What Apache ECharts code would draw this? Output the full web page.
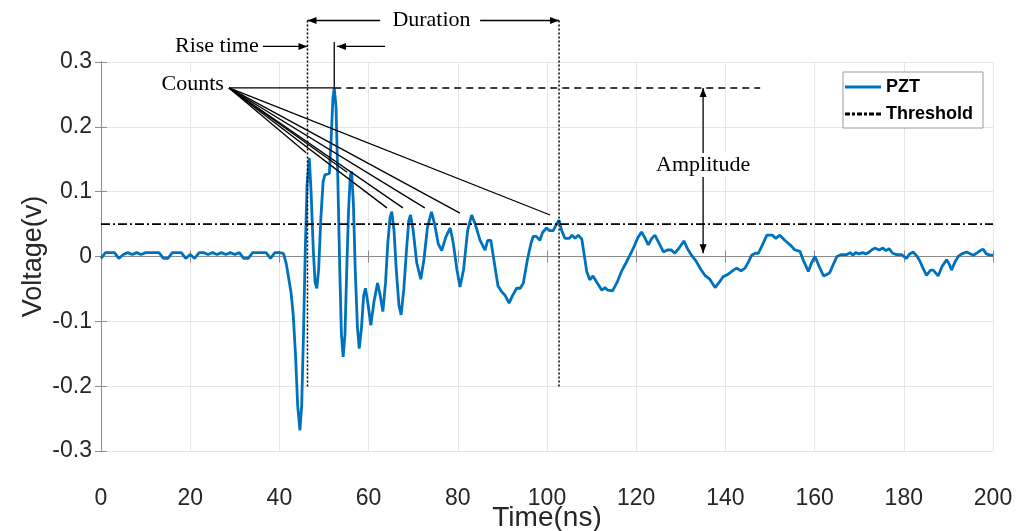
<!DOCTYPE html>
<html>
<head>
<meta charset="utf-8">
<script src="https://cdn.jsdelivr.net/npm/echarts@6/dist/echarts.min.js"></script>
<style>
  html, body { margin: 0; padding: 0; background: #fff; }
  #showChart { width: 1032px; height: 531px; }
</style>
</head>
<body>
<div id="showChart"></div>
<script>
// 采样时间 (ns)
var timeNs = [
  0,1,2,3,4,5,6,7,8,9,10,11,12,13,14,15,16,17,18,19,20,21,22,23,24,25,26,27,28,29,30,31,32,33,34,35,36,37,38,39,40,
  40.9,41.5,42.0,42.6,43.1,43.6,44.1,44.6,45.0,45.4,45.8,46.2,46.7,47.1,47.6,48.0,48.4,48.8,49.3,49.8,50.2,51.2,51.6,52.0,52.3,52.7,
  53.1,53.5,53.9,54.3,54.7,55.1,55.5,55.9,56.2,56.6,57.0,57.5,57.9,58.4,58.9,59.3,59.8,60.5,61.2,62.0,62.6,63.2,63.8,64.3,64.8,65.2,
  65.7,66.2,66.8,67.3,67.9,68.5,69.0,69.4,70.0,70.8,71.7,72.4,73.2,74.1,74.8,75.6,76.4,77.3,78.3,79.0,79.8,80.5,81.3,82.2,83.1,83.9,
  85.0,86.1,86.7,87.4,88.2,89.0,89.8,90.6,91.5,92.3,93.2,94.0,94.7,95.6,96.4,96.9,97.6,98.4,99.0,99.9,100.5,101.4,102.0,102.7,103.3,
  104.0,105.0,105.6,106.3,107.0,107.8,108.9,109.6,110.3,111.2,112.3,113.0,113.6,114.7,115.7,116.7,117.7,118.6,119.5,120.3,121.2,
  122.0,122.7,123.5,124.2,125.0,126.1,127.0,127.9,128.6,129.5,130.7,131.5,132.4,133.5,134.5,135.4,136.5,137.7,138.6,139.5,140.5,
  141.8,142.5,143.5,144.4,145.2,145.9,146.7,147.4,148.3,149.3,150.5,151.3,152.2,153.3,154.5,155.6,156.7,157.6,158.6,159.3,160.1,
  161.0,162.0,162.7,163.4,164.2,165.0,166.0,167.2,168.0,168.6,169.2,170.0,170.8,171.5,172.1,172.8,173.5,174.5,175.3,176.0,176.7,
  177.5,178.4,179.5,180.6,181.3,182.1,183.0,183.6,184.3,185.1,186.0,186.6,187.7,188.6,189.6,190.2,190.7,191.5,192.2,193.0,194.1,
  195.0,195.6,196.5,197.3,197.8,198.5,199.4,200.0
];
// PZT 电压 (V)
var voltage = [
  -0.003,0.006,0.006,0.006,-0.003,0.003,0.006,0.003,0.006,0.003,0.006,0.006,0.006,0.006,-0.003,-0.003,0.006,0.006,0.006,-0.003,
  0.003,-0.003,0.006,0.006,0.003,0.006,0.003,0.006,0.003,0.006,0.003,0.006,-0.003,-0.003,0.006,0.006,0.006,0.006,-0.003,0.006,0.006,
  0.005,-0.010,-0.030,-0.055,-0.090,-0.150,-0.230,-0.268,-0.230,-0.120,0.010,0.110,0.152,0.100,0.010,-0.040,-0.049,-0.020,0.060,0.115,
  0.126,0.128,0.180,0.245,0.260,0.230,
  0.120,-0.010,-0.120,-0.155,-0.120,-0.020,0.070,0.125,0.131,0.080,-0.020,-0.110,-0.142,-0.110,-0.060,-0.049,-0.070,-0.106,-0.070,
  -0.041,-0.060,-0.085,-0.040,0.020,0.060,0.069,
  0.040,-0.020,-0.075,-0.090,-0.050,0.010,0.055,0.064,0.040,-0.010,-0.035,-0.005,0.045,0.069,0.050,0.020,0.009,0.030,0.044,0.020,
  -0.020,-0.047,-0.020,0.040,0.064,0.050,
  0.025,0.010,0.025,0.025,-0.010,-0.045,-0.054,-0.060,-0.072,-0.060,-0.049,-0.049,-0.041,-0.005,0.020,0.031,0.031,0.025,0.037,0.044,
  0.040,0.040,0.048,0.056,0.040,
  0.028,0.028,0.033,0.028,0.033,0.027,-0.023,-0.036,-0.030,-0.040,-0.052,-0.048,-0.052,-0.053,-0.040,-0.023,-0.010,0.002,0.015,0.028,0.038,
  0.028,0.018,0.028,0.033,0.022,0.007,0.010,0.010,0.005,0.012,0.024,0.012,0.002,-0.008,-0.020,-0.029,-0.035,-0.048,-0.040,-0.031,-0.028,
  -0.021,-0.018,-0.022,-0.018,-0.008,0.002,0.005,0.005,0.018,0.033,0.033,0.028,0.033,0.025,0.018,0.010,0.008,-0.008,-0.023,-0.010,0.000,
  -0.015,-0.030,-0.028,-0.025,-0.012,0.000,0.003,0.003,0.006,0.002,0.006,0.004,0.006,0.004,0.006,0.010,0.013,0.010,0.013,0.009,0.012,
  0.005,0.003,0.003,-0.003,0.004,0.007,0.000,-0.007,-0.018,-0.029,-0.021,-0.021,-0.030,-0.015,-0.005,-0.012,-0.021,-0.008,0.000,0.004,0.007,
  0.004,0.002,0.006,0.010,0.011,0.004,0.002,0.002
];
var threshold = 0.05;
var amplitude = 0.26;
var xTicks = { min: 0, max: 200, step: 20 };
var yTicks = { min: -0.3, max: 0.3, step: 0.1 };

// 计数连线的端点 (数据坐标)
var countsFrom = [28.7, 0.26];
var countsTo = [[46.0, 0.160], [55.2, 0.130], [64.1, 0.075], [67.7, 0.075], [72.6, 0.075], [80.5, 0.067], [100.7, 0.064]];
var riseStart = 46.3, peakTime = 52.3, durationEnd = 102.7;

var pztData = [];
for (var i = 0; i < timeNs.length; i++) {
  pztData.push([timeNs[i], voltage[i]]);
}

var myChart = echarts.init(document.getElementById('showChart'));

var axisGray = '#8c8c8c';
var option = {
  backgroundColor: '#fff',
  animation: false,
  grid: { left: 101, right: 39, top: 62, bottom: 80, containLabel: false, outerBoundsMode: 'none' },
  legend: {
    orient: 'vertical',
    left: 843, top: 72,
    itemWidth: 36, itemHeight: 3, itemGap: 5,
    padding: [4, 10, 3, 2],
    backgroundColor: '#fff',
    borderColor: '#9a9a9a', borderWidth: 1,
    textStyle: { fontFamily: 'Liberation Sans', fontWeight: 'bold', fontSize: 18, color: '#000', lineHeight: 22 },
    data: [
      { name: 'PZT', icon: 'path://M0,0h36v3h-36z' },
      { name: 'Threshold', icon: 'path://M0,0h5v3h-5z M7,0h3v3h-3z M12,0h5v3h-5z M19,0h3v3h-3z M24,0h5v3h-5z M31,0h5v3h-5z' }
    ]
  },
  xAxis: [{
    type: 'value', min: xTicks.min, max: xTicks.max, interval: xTicks.step,
    name: 'Time(ns)', nameLocation: 'middle', nameGap: 53, nameMoveOverlap: false,
    nameTextStyle: { fontFamily: 'Liberation Sans', fontSize: 28, color: '#262626' },
    axisLine: { lineStyle: { color: axisGray } },
    axisTick: { inside: true, length: 6, lineStyle: { color: axisGray } },
    axisLabel: { margin: 36, fontFamily: 'Liberation Sans', fontSize: 23, color: '#262626' },
    splitLine: { lineStyle: { color: '#e6e6e6' } }
  }, {
    type: 'value', position: 'top', min: xTicks.min, max: xTicks.max, interval: xTicks.step,
    axisLine: { lineStyle: { color: axisGray } },
    axisTick: { inside: true, length: 6, lineStyle: { color: axisGray } },
    axisLabel: { show: false }, splitLine: { show: false }
  }],
  yAxis: [{
    type: 'value', min: yTicks.min, max: yTicks.max, interval: yTicks.step,
    name: 'Voltage(v)', nameLocation: 'middle', nameGap: 54, nameMoveOverlap: false,
    nameTextStyle: { fontFamily: 'Liberation Sans', fontSize: 27, color: '#262626' },
    axisLine: { show: true, lineStyle: { color: axisGray } },
    axisTick: { show: true, inside: true, length: 6, lineStyle: { color: axisGray } },
    axisLabel: {
      margin: 9, fontFamily: 'Liberation Sans', fontSize: 23, color: '#262626',
      formatter: function (v) { return String(+v.toFixed(1)); }
    },
    splitLine: { lineStyle: { color: '#e6e6e6' } }
  }, {
    type: 'value', position: 'right', min: yTicks.min, max: yTicks.max, interval: yTicks.step,
    axisLine: { show: true, lineStyle: { color: axisGray } },
    axisTick: { show: true, inside: true, length: 6, lineStyle: { color: axisGray } },
    axisLabel: { show: false }, splitLine: { show: false }
  }],
  series: [{
    name: 'PZT', type: 'line', xAxisIndex: 0, yAxisIndex: 0,
    showSymbol: false, symbol: 'none',
    lineStyle: { color: '#0072BD', width: 2.8 },
    itemStyle: { color: '#0072BD' },
    data: pztData
  }, {
    name: 'Threshold', type: 'line', xAxisIndex: 0, yAxisIndex: 0,
    showSymbol: false, symbol: 'none',
    lineStyle: { color: '#000', width: 1.8, type: [9, 3, 2, 3] },
    itemStyle: { color: '#000' },
    data: [[xTicks.min, threshold], [xTicks.max, threshold]]
  }]
};
myChart.setOption(option);

// 标注 (数据坐标 -> 像素)
function px(x, y) {
  return myChart.convertToPixel({ xAxisIndex: 0, yAxisIndex: 0 }, [x, y]);
}
function seg(a, b, dash, w) {
  return {
    type: 'line', z: 100, silent: true,
    shape: { x1: a[0], y1: a[1], x2: b[0], y2: b[1] },
    style: { stroke: '#000', lineWidth: w || 1.3, lineDash: dash || null }
  };
}
function head(tip, dir) {
  // dir: 'l','r','u','d'
  var L = 9, H = 3.5, p;
  if (dir == 'l') p = [[tip[0], tip[1]], [tip[0] + L, tip[1] - H], [tip[0] + L, tip[1] + H]];
  if (dir == 'r') p = [[tip[0], tip[1]], [tip[0] - L, tip[1] - H], [tip[0] - L, tip[1] + H]];
  if (dir == 'u') p = [[tip[0], tip[1]], [tip[0] - H, tip[1] + L], [tip[0] + H, tip[1] + L]];
  if (dir == 'd') p = [[tip[0], tip[1]], [tip[0] - H, tip[1] - L], [tip[0] + H, tip[1] - L]];
  return { type: 'polygon', z: 101, silent: true, shape: { points: p }, style: { fill: '#000' } };
}
function label(pos, text, align) {
  return {
    type: 'text', z: 102, silent: true, x: pos[0], y: pos[1],
    style: {
      text: text, fill: '#000', font: '22px "Liberation Serif"',
      align: align || 'center', verticalAlign: 'middle',
      backgroundColor: '#fff', padding: [1, 2]
    }
  };
}

var topY = 0.364, riseY = 0.324, botY = -0.201;
var g = [];
// 持续时间虚线
g.push(seg(px(riseStart, topY), px(riseStart, botY), [2, 2], 1.5));
g.push(seg(px(durationEnd, topY), px(durationEnd, botY), [2, 2], 1.5));
// Duration
g.push(seg(px(62.6, topY), px(riseStart, topY)));
g.push(head(px(riseStart, topY), 'l'));
g.push(seg(px(85.0, topY), px(durationEnd, topY)));
g.push(head(px(durationEnd, topY), 'r'));
g.push(label(px(74.1, topY), 'Duration'));
// Rise time
g.push(seg(px(36.3, riseY), px(riseStart, riseY)));
g.push(head(px(riseStart, riseY), 'r'));
g.push(seg(px(63.7, riseY), px(peakTime + 0.6, riseY)));
g.push(head(px(peakTime + 0.6, riseY), 'l'));
g.push(seg(px(peakTime, 0.331), px(peakTime, amplitude)));
g.push(label(px(35.8, riseY), 'Rise time', 'right'));
// Counts
g.push(seg(px(countsFrom[0], amplitude), px(peakTime, amplitude)));
g.push(seg(px(peakTime, amplitude), px(147.8, amplitude), [7, 5], 1.4));
for (var k = 0; k < countsTo.length; k++) {
  g.push(seg(px(countsFrom[0], countsFrom[1]), px(countsTo[k][0], countsTo[k][1])));
}
g.push(label(px(28.0, 0.265), 'Counts', 'right'));
// Amplitude
g.push(seg(px(135.0, amplitude), px(135.0, 0.005)));
g.push(head(px(135.0, amplitude), 'u'));
g.push(head(px(135.0, 0.005), 'd'));
g.push(label(px(135.0, 0.141), 'Amplitude'));

myChart.setOption({ graphic: g });
</script>
</body>
</html>
